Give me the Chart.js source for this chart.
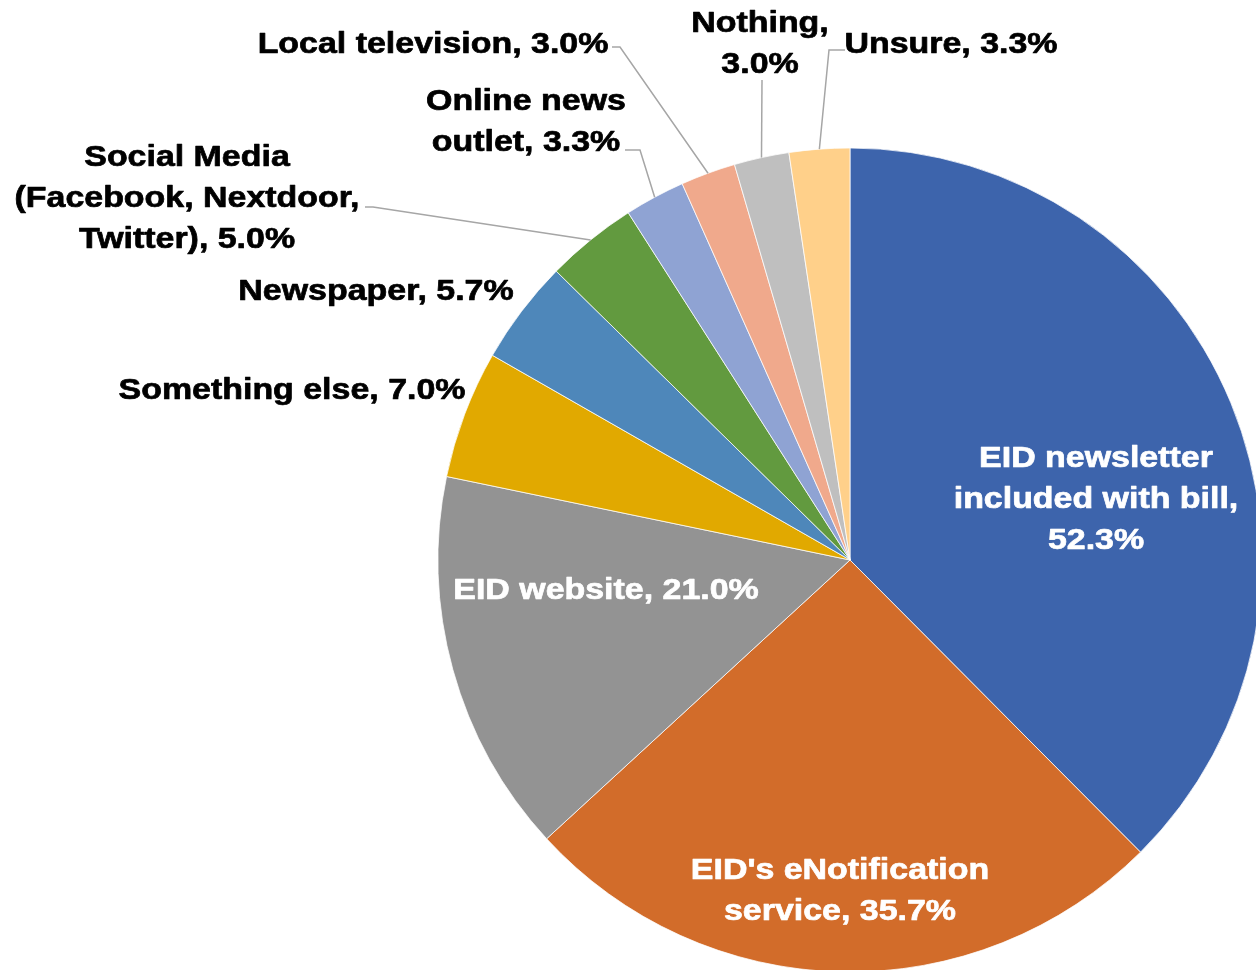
<!DOCTYPE html>
<html>
<head>
<meta charset="utf-8">
<script src="https://cdn.jsdelivr.net/npm/chart.js@4.4.1/dist/chart.umd.min.js"></script>
<style>
  html, body { margin: 0; padding: 0; background: #fff; }
  canvas { display: block; }
</style>
</head>
<body>
<canvas id="pieChart" width="1256" height="970"></canvas>
<script>
// data
const categories = [
  "EID newsletter included with bill",
  "EID's eNotification service",
  "EID website",
  "Something else",
  "Newspaper",
  "Social Media (Facebook, Nextdoor, Twitter)",
  "Online news outlet",
  "Local television",
  "Nothing",
  "Unsure"
];
const values = [52.3, 35.7, 21.0, 7.0, 5.7, 5.0, 3.3, 3.0, 3.0, 3.3];

// styles
const colors = ["#3D64AC", "#D26C2A", "#939393", "#E1A900", "#4E87BA",
                "#629A3F", "#8FA3D3", "#F0A98C", "#BFBFBF", "#FFD08A"];
const textColors = ["#fff", "#fff", "#fff", "#000", "#000", "#000", "#000", "#000", "#000", "#000"];
// how many words go on each line of a label
const lineWords = [[2, 3, 1], [2, 2], [3], [3], [2], [2, 2, 2], [2, 2], [3], [1, 1], [2]];
// label centre x, first baseline y
const labelPos = [[1096, 467], [840, 879], [606, 599], [292, 399], [376, 300],
                  [187, 166], [526, 110], [433, 53], [760, 32], [951, 53]];
// leader line points before it reaches the slice (null = no leader)
const leaders = [null, null, null, null, null,
                 [[365, 207], [373, 207]], [[625, 150], [640, 150]],
                 [[612, 47], [620, 47]], [[762, 80]], [[845, 50], [829, 50]]];

const LINE_H = 41;
const FONT = 'bold 29.5px "Liberation Sans", Arial, sans-serif';
const STRETCH = 1.15;

function labelLines(i) {
  const words = (categories[i] + ", " + values[i].toFixed(1) + "%").split(" ");
  let out = [], k = 0;
  lineWords[i].forEach(n => {
    out.push(words.slice(k, k + n).join(" "));
    k += n;
  });
  return out;
}

const labelPlugin = {
  id: "pieLabels",
  afterDatasetsDraw(chart) {
    const ctx = chart.ctx;
    const meta = chart.getDatasetMeta(0);
    ctx.save();
    // leader lines
    ctx.strokeStyle = "#A6A6A6";
    ctx.lineWidth = 1.5;
    meta.data.forEach((arc, i) => {
      if (!leaders[i]) return;
      const p = arc.getProps(["x", "y", "startAngle", "endAngle", "outerRadius"], true);
      const mid = (p.startAngle + p.endAngle) / 2;
      const ex = p.x + Math.cos(mid) * p.outerRadius;
      const ey = p.y + Math.sin(mid) * p.outerRadius;
      ctx.beginPath();
      ctx.moveTo(leaders[i][0][0], leaders[i][0][1]);
      for (let j = 1; j < leaders[i].length; j++) ctx.lineTo(leaders[i][j][0], leaders[i][j][1]);
      ctx.lineTo(ex, ey);
      ctx.stroke();
    });
    // texts (a thin stroke makes them a bit heavier, like the original)
    ctx.font = FONT;
    ctx.textAlign = "center";
    ctx.textBaseline = "alphabetic";
    ctx.lineWidth = 0.7;
    ctx.lineJoin = "round";
    categories.forEach((c, i) => {
      ctx.fillStyle = textColors[i];
      ctx.strokeStyle = textColors[i];
      labelLines(i).forEach((line, j) => {
        ctx.save();
        ctx.translate(labelPos[i][0], labelPos[i][1] + j * LINE_H);
        ctx.scale(STRETCH, 1);
        ctx.fillText(line, 0, 0);
        ctx.strokeText(line, 0, 0);
        ctx.restore();
      });
    });
    ctx.restore();
  }
};

const chart = new Chart(document.getElementById("pieChart").getContext("2d"), {
  type: "pie",
  data: {
    labels: categories,
    datasets: [{
      data: values,
      backgroundColor: colors,
      borderColor: "#ffffff",
      borderWidth: 0.75,
      radius: 412
    }]
  },
  options: {
    responsive: false,
    animation: false,
    layout: { padding: { left: 444, top: 150, right: 0, bottom: 0 } },
    plugins: {
      legend: { display: false },
      tooltip: { enabled: false }
    }
  },
  plugins: [labelPlugin]
});
</script>
</body>
</html>
